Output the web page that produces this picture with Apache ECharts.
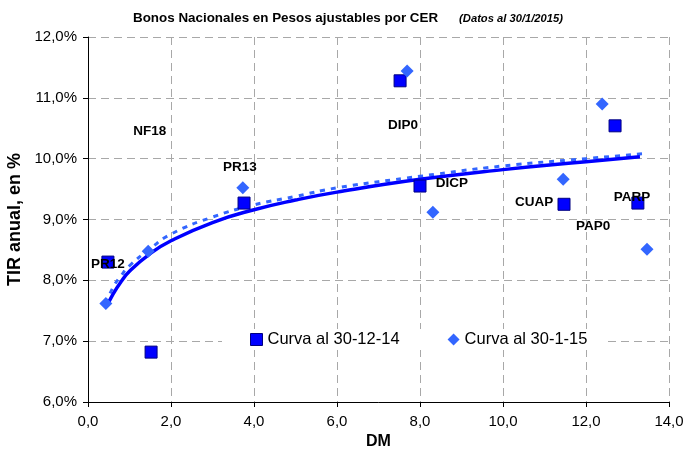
<!DOCTYPE html>
<html>
<head>
<meta charset="utf-8">
<script src="https://cdn.jsdelivr.net/npm/echarts@6/dist/echarts.min.js"></script>
<style>
  html, body { margin: 0; padding: 0; background: #fff; }
  #chart { width: 683px; height: 449px; }
</style>
</head>
<body>
<div id="chart"></div>
<script>
// Curva al 30-12-14 (cuadrados)
const dmDic = [0.48, 1.52, 3.76, 7.52, 8.0, 11.47, 12.7, 13.25];
const tirDic = [8.30, 6.82, 9.27, 11.28, 9.55, 9.25, 10.54, 9.27];
// Curva al 30-1-15 (rombos)
const dmEne = [0.43, 1.45, 3.73, 7.69, 8.31, 11.45, 12.39, 13.47];
const tirEne = [7.62, 8.48, 9.52, 11.44, 9.12, 9.66, 10.90, 8.51];

// tendencias
const trendDicX = [0.46, 0.6, 0.8, 1.0, 1.5, 2, 3, 4, 5, 6, 8, 10, 12, 13.3];
const trendDicY = [7.58, 7.77, 7.98, 8.15, 8.44, 8.65, 8.95, 9.16, 9.32, 9.45, 9.66, 9.82, 9.95, 10.03];
const trendEneX = [0.43, 0.6, 0.8, 1.0, 1.5, 2, 3, 4, 5, 6, 8, 10, 12, 13.35];
const trendEneY = [7.62, 7.88, 8.08, 8.24, 8.52, 8.76, 9.04, 9.24, 9.38, 9.52, 9.71, 9.88, 10.0, 10.08];

// etiquetas de bonos
const bondNames = ['NF18', 'PR12', 'PR13', 'DIP0', 'DICP', 'CUAP', 'PAP0', 'PARP'];
const bondX = [1.49, 0.48, 3.66, 7.59, 8.77, 10.75, 12.17, 13.11];
const bondY = [10.45, 8.27, 9.86, 10.55, 9.6, 9.29, 8.89, 9.37];

const zip = (xs, ys) => xs.map((x, i) => [x, ys[i]]);
const comma = v => v.toFixed(1).replace('.', ',');

let myChart = echarts.init(document.getElementById('chart'));
myChart.setOption({
  animation: false,
  textStyle: { fontFamily: '"Liberation Sans", Arial, sans-serif' },
  title: {
    text: '{b|Bonos Nacionales en Pesos ajustables por CER}{i|(Datos al 30/1/2015)}',
    left: 128,
    top: 7,
    textStyle: {
      rich: {
        b: { fontSize: 13.4, fontWeight: 'bold', color: '#000' },
        i: { fontSize: 11.2, fontStyle: 'italic', color: '#000', padding: [0, 0, 0, 21] }
      }
    }
  },
  legend: {
    data: [
      { name: 'Curva al 30-12-14', icon: 'rect', itemStyle: { borderColor: '#000080', borderWidth: 1 } },
      { name: 'Curva al 30-1-15', icon: 'diamond', itemStyle: { borderWidth: 0 } }
    ],
    left: 222,
    top: 329,
    itemWidth: 12,
    itemHeight: 12,
    itemGap: 48,
    backgroundColor: '#fff',
    padding: [2, 20, 2, 28],
    textStyle: { fontSize: 16.5, color: '#000' }
  },
  grid: { left: 88, right: 14, top: 37, bottom: 47, containLabel: false, outerBoundsMode: 'none' },
  xAxis: {
    type: 'value',
    min: 0, max: 14, interval: 2,
    name: 'DM',
    nameLocation: 'middle',
    nameGap: 31,
    nameTextStyle: { fontSize: 16, fontWeight: 'bold', color: '#000' },
    axisLine: { show: true, lineStyle: { color: '#000' } },
    axisTick: { show: true, length: 5, lineStyle: { color: '#000' } },
    axisLabel: { fontSize: 15, color: '#000', margin: 12, formatter: v => comma(v) },
    splitLine: { show: true, lineStyle: { color: '#a8a8a8', type: [8, 5] } }
  },
  yAxis: {
    type: 'value',
    min: 6, max: 12, interval: 1,
    name: 'TIR anual, en %',
    nameLocation: 'middle',
    nameGap: 60,
    nameTextStyle: { fontSize: 18, fontWeight: 'bold', color: '#000' },
    axisLine: { show: true, lineStyle: { color: '#000' } },
    axisTick: { show: true, length: 5, lineStyle: { color: '#000' } },
    axisLabel: { fontSize: 15, color: '#000', margin: 11, formatter: v => comma(v) + '%' },
    splitLine: { show: true, lineStyle: { color: '#a8a8a8', type: [8, 5] } }
  },
  series: [
    {
      name: 'trendEne',
      type: 'line',
      data: zip(trendEneX, trendEneY),
      smooth: true,
      symbol: 'none',
      lineStyle: { color: '#3366ff', width: 3, type: [5, 6] },
      z: 2
    },
    {
      name: 'trendDic',
      type: 'line',
      data: zip(trendDicX, trendDicY),
      smooth: true,
      symbol: 'none',
      lineStyle: { color: '#0000ff', width: 3.5 },
      z: 3
    },
    {
      name: 'Curva al 30-12-14',
      type: 'scatter',
      data: zip(dmDic, tirDic),
      symbol: 'rect',
      symbolSize: 12,
      itemStyle: { color: '#0000ff', borderColor: '#000080', borderWidth: 1, opacity: 1 },
      z: 4
    },
    {
      name: 'Curva al 30-1-15',
      type: 'scatter',
      data: zip(dmEne, tirEne),
      symbol: 'diamond',
      symbolSize: 13,
      itemStyle: { color: '#3366ff', opacity: 1 },
      z: 4
    },
    {
      name: 'labels',
      type: 'scatter',
      symbolSize: 0,
      data: bondNames.map((n, i) => ({ name: n, value: [bondX[i], bondY[i]] })),
      itemStyle: { opacity: 1 },
      label: {
        show: true,
        position: 'inside',
        formatter: '{b}',
        fontSize: 13.5,
        fontWeight: 'bold',
        color: '#000'
      },
      silent: true,
      z: 5
    }
  ]
});
</script>
</body>
</html>
